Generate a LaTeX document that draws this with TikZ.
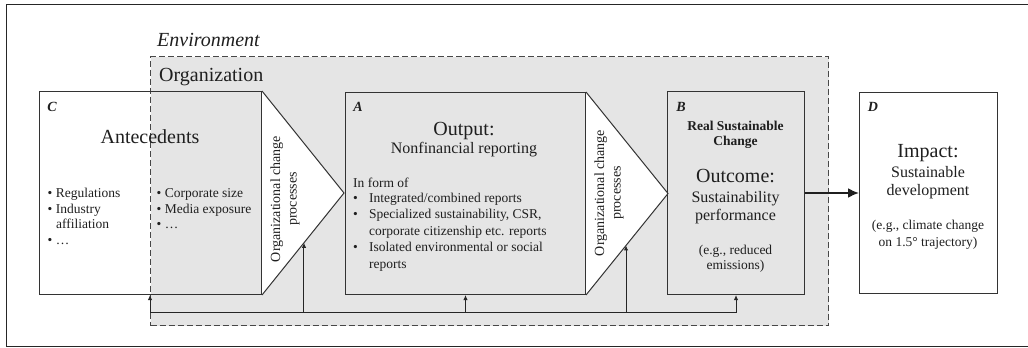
\documentclass[tikz,border=0pt]{standalone}
\usepackage{fontspec}
\setmainfont{Liberation Serif}
\usetikzlibrary{arrows.meta,calc}
\begin{document}
\begin{tikzpicture}[x=1pt,y=-1pt,
  every node/.style={text=black!88},
  boxline/.style={draw=black!80, line width=1pt},
  box/.style={boxline, inner sep=0pt, anchor=north west},
  lbl/.style={inner sep=0pt, font=\fontsize{14}{16}\selectfont\bfseries\itshape},
  big/.style={inner sep=0pt, anchor=base, font=\fontsize{20}{22}\selectfont},
  mid/.style={inner sep=0pt, anchor=base, font=\fontsize{16}{18}\selectfont},
  sml/.style={inner sep=0pt, anchor=base, font=\fontsize{13.5}{16}\selectfont},
  smlw/.style={inner sep=0pt, anchor=base west, font=\fontsize{13.5}{16}\selectfont},
  chev/.style={inner sep=0pt, rotate=90, align=center, font=\fontsize{14}{16.5}\selectfont},
  fb/.style={draw=black!85, line width=1pt, -{Latex[length=5pt,width=4.5pt]}},
]
\useasboundingbox (0,0) rectangle (1028,348);
% outer frame (right side lies beyond the picture)
\draw[line width=1pt, black!85] (1040,4) -- (6,4) -- (6,346.5) -- (1040,346.5);

\node[inner sep=0pt, anchor=base west, font=\fontsize{20}{22}\selectfont\itshape] (env) at (157,46) {Environment};

% organization area
\node[draw=black!72, dash pattern=on 6pt off 3pt, line width=1pt, fill=gray!20,
      anchor=north west, minimum width=678pt, minimum height=269pt, inner sep=0pt] (org) at (150,56) {};
\node[big, anchor=base west] (orgt) at (159,81) {Organization};

% boxes
\node[box, minimum width=222pt, minimum height=203pt] (C) at (39,91) {};
\node[box, minimum width=240pt, minimum height=202pt] (A) at (345,92) {};
\node[box, minimum width=137pt, minimum height=203pt] (B) at (667,91) {};
\node[box, fill=white, minimum width=138pt, minimum height=201pt] (D) at (859,92) {};

% chevrons
\coordinate (c1p) at ($(C.east)+(82,0)$);
\coordinate (c2p) at ($(A.east)+(82,0)$);
\fill[white] (C.north east) -- (c1p) -- (C.south east) -- cycle;
\draw[boxline] (C.north east) -- (c1p) -- (C.south east);
\fill[white] (A.north east) -- (c2p) -- (A.south east) -- cycle;
\draw[boxline] (A.north east) -- (c2p) -- (A.south east);
\node[chev] (ch1) at (285,199) {Organizational change\\processes};
\node[chev] (ch2) at (609,193) {Organizational change\\processes};

% C texts
\node[lbl] (Cl) at (52,106.5) {C};
\node[big] (Ct) at (150,143) {Antecedents};
\node[smlw] (c1) at (47.5,197) {\textbullet\ Regulations};
\node[smlw] (c2) at (47.5,213) {\textbullet\ Industry};
\node[smlw] (c3) at (56,228.5) {affiliation};
\node[smlw] (c4) at (47.5,244) {\textbullet\ …};
\node[smlw] (c5) at (156.5,197) {\textbullet\ Corporate size};
\node[smlw] (c6) at (156.5,213) {\textbullet\ Media exposure};
\node[smlw] (c7) at (156.5,228.5) {\textbullet\ …};

% A texts
\node[lbl] (Al) at (358,106.5) {A};
\node[big] (At) at (464,135) {Output:};
\node[mid] (As) at (464,153) {Nonfinancial reporting};
\node[smlw] (a0) at (353,187) {In form of};
\node[smlw] (ab1) at (353,202) {\textbullet};
\node[smlw] (a1) at (369,202) {Integrated/combined reports};
\node[smlw] (ab2) at (353,218.5) {\textbullet};
\node[smlw] (a2) at (369,218.5) {Specialized sustainability, CSR,};
\node[smlw] (a3) at (369,235) {corporate citizenship etc. reports};
\node[smlw] (ab4) at (353,251.5) {\textbullet};
\node[smlw] (a4) at (369,251.5) {Isolated environmental or social};
\node[smlw] (a5) at (369,268) {reports};

% B texts
\node[lbl] (Bl) at (681,106.5) {B};
\node[sml, font=\fontsize{13.5}{16}\selectfont\bfseries] (b1) at (735.5,130) {Real Sustainable};
\node[sml, font=\fontsize{13.5}{16}\selectfont\bfseries] (b2) at (735.5,145) {Change};
\node[big] (b3) at (735.5,182) {Outcome:};
\node[mid] (b4) at (735.5,202) {Sustainability};
\node[mid] (b5) at (735.5,220) {performance};
\node[sml] (b6) at (735.5,254.5) {(e.g., reduced};
\node[sml] (b7) at (735.5,269.5) {emissions)};

% D texts
\node[lbl] (Dl) at (873,106.5) {D};
\node[big] (d1) at (928,157) {Impact:};
\node[mid] (d2) at (928,177) {Sustainable};
\node[mid] (d3) at (928,195) {development};
\node[sml] (d4) at (928,229.5) {(e.g., climate change};
\node[sml] (d5) at (928,246) {on 1.5° trajectory)};

% main arrow
\draw[line width=2pt, black!88, -{Latex[length=11pt,width=10pt]}] (B.east) -- (D.west);

% feedback lines
\coordinate (f0) at (150,312);
\coordinate (k1) at ($(C.south east)!0.512!(c1p)$);
\coordinate (k2) at ($(A.south east)!0.488!(c2p)$);
\draw[fb] (f0) -| (B.south);
\draw[fb] (f0) -- (f0 |- C.south);
\draw[fb] (k1 |- f0) -- (k1);
\draw[fb] (A.south |- f0) -- (A.south);
\draw[fb] (k2 |- f0) -- (k2);
\end{tikzpicture}
\end{document}
